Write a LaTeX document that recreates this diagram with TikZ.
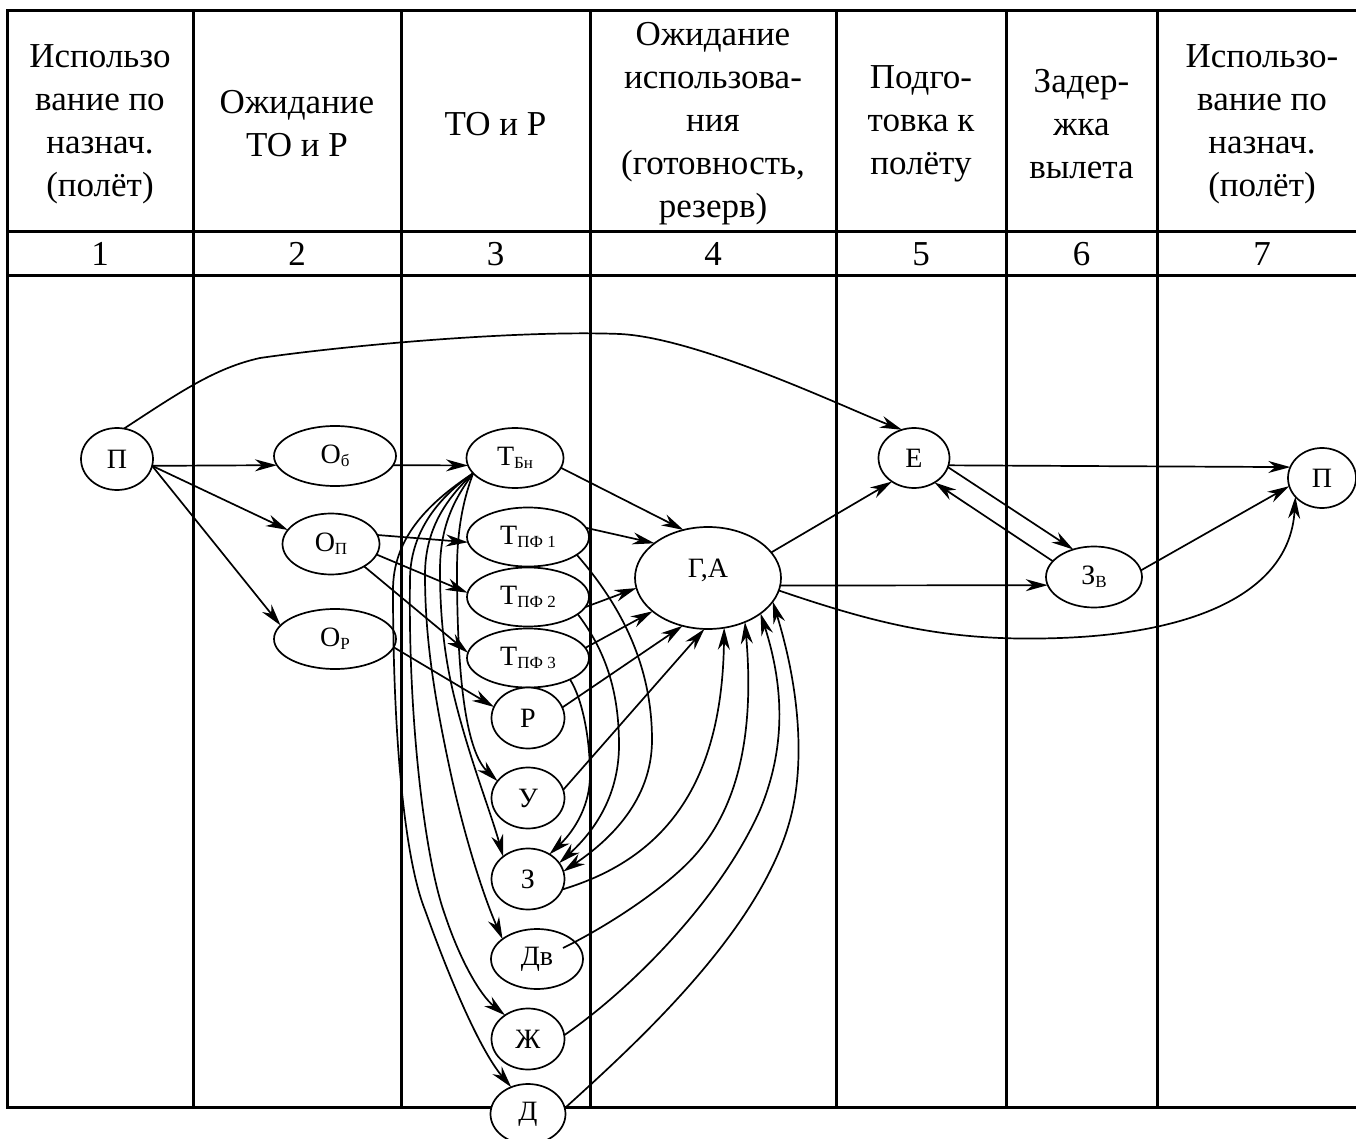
\documentclass[tikz,border=0pt]{standalone}
\usepackage{fontspec}
\setmainfont{Liberation Serif}
\usetikzlibrary{shapes.geometric,arrows.meta,calc}

% small lowered index inside a state label
\newcommand\sbx[1]{\raisebox{-1.5pt}{\fontsize{8.5}{9}\selectfont #1}}

\begin{document}
\begin{tikzpicture}[x=0.5pt,y=-0.5pt,
  grid/.style={line width=1.5pt, line cap=rect},
  head/.style={align=center, font=\fontsize{17.5}{21.5}\selectfont, inner sep=0pt},
  num/.style={font=\fontsize{17.5}{21.5}\selectfont, inner sep=0pt},
  st/.style={ellipse, draw, fill=white, line width=0.85pt, inner sep=0pt, outer sep=0pt,
             font=\fontsize{14}{16}\selectfont},
  sround/.style={st, minimum width=36.5pt, minimum height=30.5pt},
  smid/.style={st, minimum width=48.5pt, minimum height=30.5pt},
  swide/.style={st, minimum width=61pt, minimum height=30pt},
  arr/.style={line width=0.85pt, -{Stealth[length=11pt,width=6pt,inset=3.5pt]}},
]
\useasboundingbox (0,0) rectangle (1356,1139);

% table grid
\foreach \yy in {11,232,276,1107} \draw[grid] (7,\yy) -- (1356,\yy);
\foreach \xx in {7,193,401,590,836,1006,1157} \draw[grid] (\xx,11) -- (\xx,1107);

% column headings
\node[head] (h1) at (100,124) {Использо\\вание по\\назнач.\\(полёт)};
\node[head] (h2) at (297,124) {Ожидание\\ТО и Р};
\node[head] (h3) at (495.5,124) {ТО и Р};
\node[head] (h4) at (713,124) {Ожидание\\использова-\\ния\\(готовность,\\резерв)};
\node[head] (h5) at (921,124) {Подго-\\товка к\\полёту};
\node[head] (h6) at (1081.5,124) {Задер-\\жка\\вылета};
\node[head] (h7) at (1262,124) {Использо-\\вание по\\назнач.\\(полёт)};

% column numbers
\node[num] (n1) at (100,254) {1};
\node[num] (n2) at (297,254) {2};
\node[num] (n3) at (495.5,254) {3};
\node[num] (n4) at (713,254) {4};
\node[num] (n5) at (921,254) {5};
\node[num] (n6) at (1081.5,254) {6};
\node[num] (n7) at (1262,254) {7};

% states
\node[st, minimum width=36pt, minimum height=31pt] (Pl) at (117,459) {П};
\node[swide] (Ob) at (335,456) {О\sbx{б}};
\node[smid]  (Op) at (331,544) {О\sbx{П}};
\node[swide] (Or) at (335,639) {О\sbx{Р}};
\node[smid, minimum height=30pt] (Tbn) at (515,458) {Т\sbx{Бн}};
\node[swide, minimum height=29.5pt] (Tpf1) at (528,537) {Т\sbx{ПФ 1}};
\node[swide, minimum height=29.5pt] (Tpf2) at (528,597) {Т\sbx{ПФ 2}};
\node[swide, minimum height=29.5pt] (Tpf3) at (528,658) {Т\sbx{ПФ 3}};
\node[sround] (R)  at (528,718) {Р};
\node[sround] (U)  at (528,798) {У};
\node[sround] (Z)  at (528,879) {З};
\node[st, minimum width=46pt, minimum height=30pt] (Dv) at (537,959) {Дв};
\node[sround] (Zh) at (528,1039) {Ж};
\node[st, minimum width=37.5pt, minimum height=30pt] (D) at (528,1114) {Д};
\node[st, minimum width=73pt, minimum height=51pt] (GA) at (708,578)
  {\raisebox{1pt}{\smash{Г,А}}\hspace{16pt}};
\node[st, minimum width=35.5pt, minimum height=30pt] (E) at (914,458) {Е};
\node[st, minimum width=48pt, minimum height=30.5pt] (Zv) at (1094,577) {З\sbx{В}};
\node[st, minimum width=34pt, minimum height=30pt] (Pr) at (1322,478) {П};

% transitions from the flight
\draw[arr] (Pl.-11) -- (Ob.189);
\draw[arr] (Pl.-11) -- (Op.162);
\draw[arr] (Pl.-11) -- (Or.166);
\draw[arr] (Pl.77) .. controls (180,392) and (215,368) .. (260,358)
  .. controls (350,345) and (520,330) .. (620,334)
  .. controls (700,338) and (850,410) .. (E.113);

% waiting -> maintenance
\draw[arr] (Ob.-9.5) -- (Tbn.189);
\draw[arr] (Op.11) -- (Tpf1.185);
\draw[arr] (Op.-13) -- (Tpf2.176);
\draw[arr] (Op.-34) -- (Tpf3.175);
\draw[arr] (Or.-8.5) -- (R.162);

% bundle leaving Т_Бн
\draw[arr] (Tbn.200) .. controls (465,495) and (457,525) .. (457,570)
  .. controls (457,700) and (470,755) .. (U.151);
\draw[arr] (Tbn.200) .. controls (455,498) and (440,525) .. (440,570)
  .. controls (440,620) and (445,660) .. (455,700)
  .. controls (470,760) and (490,810) .. (Z.138);
\draw[arr] (Tbn.200) .. controls (445,500) and (425,530) .. (425,575)
  .. controls (425,640) and (435,700) .. (450,770)
  .. controls (465,840) and (485,900) .. (Dv.150);
\draw[arr] (Tbn.200) .. controls (435,500) and (410,535) .. (410,580)
  .. controls (408,720) and (425,860) .. (445,915)
  .. controls (460,960) and (480,995) .. (Zh.134);
\draw[arr] (Tbn.200) .. controls (425,505) and (393,540) .. (393,590)
  .. controls (393,740) and (405,860) .. (425,910)
  .. controls (450,980) and (480,1050) .. (D.122);

% periodic maintenance -> З
\draw[arr] (Tpf1.-20) .. controls (625,610) and (652,670) .. (652,740)
  .. controls (652,800) and (610,840) .. (Z.12);
\draw[arr] (Tpf2.-19) .. controls (605,650) and (619,690) .. (619,745)
  .. controls (619,800) and (590,835) .. (Z.27);
\draw[arr] (Tpf3.-27) .. controls (583,700) and (590,740) .. (590,775)
  .. controls (590,810) and (570,835) .. (Z.49);

% into readiness Г,А
\draw[arr] (Tbn.-12) -- (GA.117);
\draw[arr] (Tpf1.9.5) -- (GA.147);
\draw[arr] (Tpf2.-10) -- (GA.188);
\draw[arr] (Tpf3.10) -- (GA.211);
\draw[arr] (R.17) -- (GA.242);
\draw[arr] (U.13) -- (GA.266);
\draw[arr] (Z.-17) .. controls (660,860) and (722,790) .. (GA.288);
\draw[arr] ($(Dv.center)+(26,-11)$) .. controls (610,925) and (670,885) .. (697,853)
  .. controls (725,820) and (757,760) .. (GA.310);
\draw[arr] (Zh.6) .. controls (630,990) and (720,900) .. (760,810)
  .. controls (785,750) and (785,690) .. (GA.326);
\draw[arr] (D.9) .. controls (640,1040) and (760,930) .. (790,820)
  .. controls (805,765) and (800,690) .. (GA.340);

% readiness -> preparation, delay, flight
\draw[arr] (GA.22) -- (E.227);
\draw[arr] (GA.-6) -- (Zv.190);
\draw[arr] (GA.-10) .. controls (880,625) and (950,642) .. (1060,638)
  .. controls (1200,633) and (1290,590) .. (Pr.215);
\draw[arr] (E.-12) -- (Pr.161);
\draw[arr] (E.-15) -- (Zv.127);
\draw[arr] (Zv.159) -- (E.-50);
\draw[arr] (Zv.8) -- (Pr.194);
\end{tikzpicture}
\end{document}
